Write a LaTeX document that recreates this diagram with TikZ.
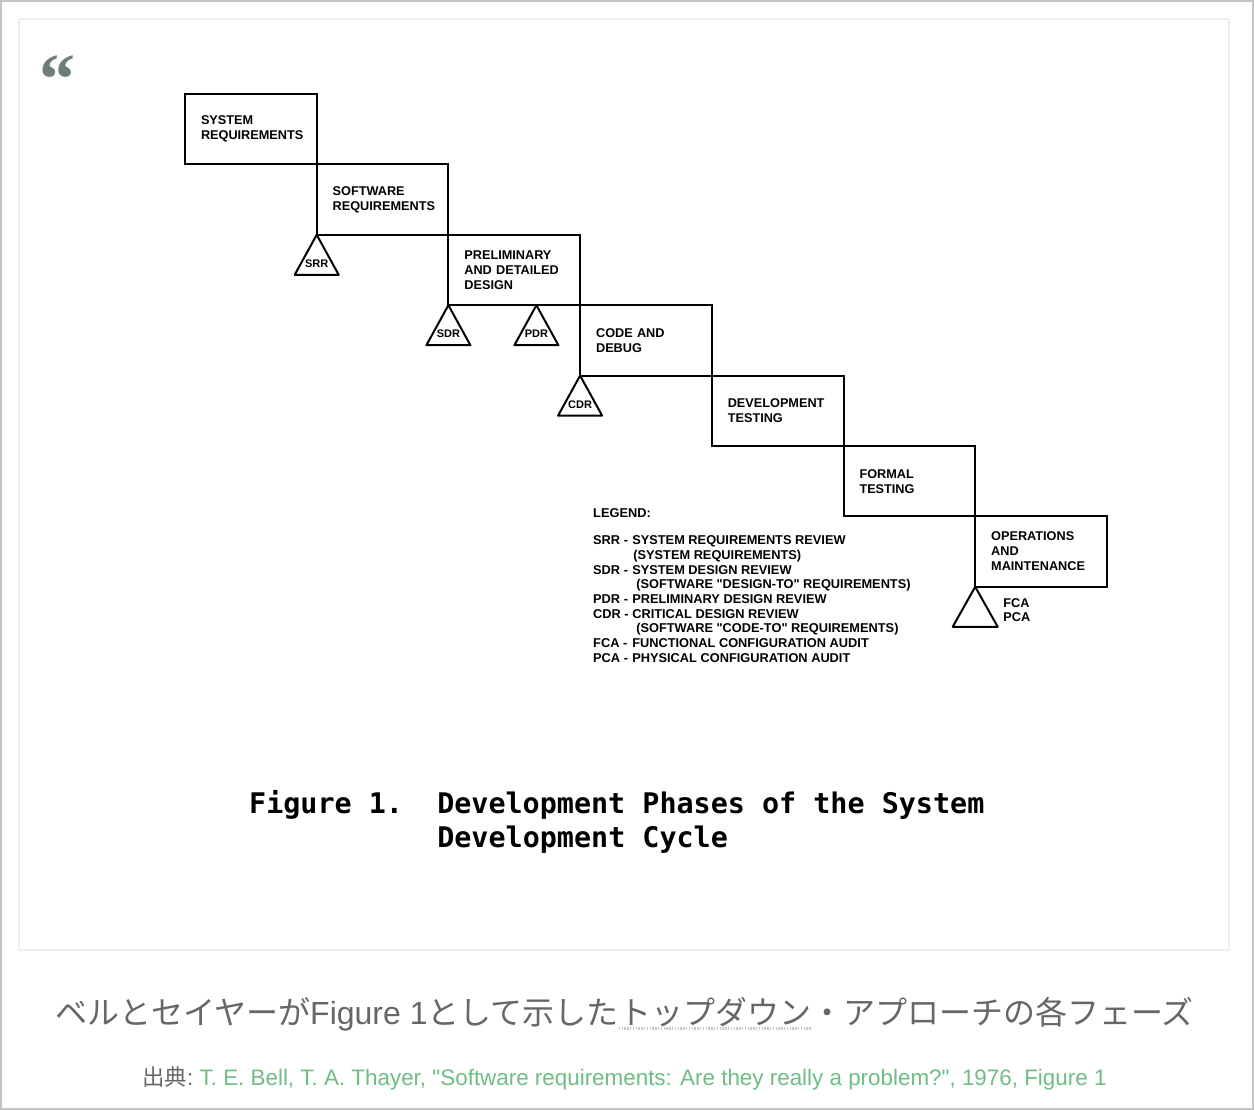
\documentclass[tikz,border=0pt]{standalone}
\usepackage{fontspec}
\setmainfont{Liberation Sans}
\newfontfamily\cjkfont{Noto Sans CJK JP}
\newfontfamily\quotefont{Liberation Serif}
\newfontfamily\typewriterfont{DejaVu Sans Mono}
\usetikzlibrary{positioning}

\definecolor{quotegray}{HTML}{6E7E7C}
\definecolor{captiongray}{HTML}{666666}
\definecolor{sourcegreen}{HTML}{6CBE82}
\definecolor{framegray}{HTML}{C4C4C4}
\definecolor{cardgray}{HTML}{EEEEEE}

\tikzset{
  phase/.style={draw, line width=2pt, outer sep=0pt, inner xsep=16pt, inner ysep=0pt,
    text width=99.7pt, minimum height=70.4pt, align=left,
    font=\bfseries\fontsize{12.7}{15}\selectfont},
  review/.style={draw, line width=2pt, line join=round},
  reviewtext/.style={inner sep=0pt, font=\bfseries\fontsize{11}{13}\selectfont},
  legendtext/.style={inner sep=0pt, font=\bfseries\fontsize{12.8}{14.7}\selectfont},
  figtext/.style={inner sep=0pt, font=\typewriterfont\bfseries\fontsize{28.4}{34}\selectfont},
  jpcaption/.style={inner sep=0pt, text=captiongray, font=\cjkfont\fontsize{32}{36}\selectfont},
  sourcetext/.style={inner sep=0pt, font=\fontsize{22.4}{26}\selectfont},
  dotunder/.style={draw=black!22, line width=2.5pt, dash pattern=on 1.4pt off 1.4pt},
}

\begin{document}
\begin{tikzpicture}[x=1pt, y=-1pt]
  \useasboundingbox (0,0) rectangle (1254,1110);
  % page frame and card
  \draw[framegray, line width=2pt] (1,1) rectangle (1253,1109);
  \draw[cardgray, line width=2pt] (19,19) rectangle (1229,950);
  \node[text=quotegray, inner sep=0pt, anchor=base west,
    font=\quotefont\bfseries\fontsize{72}{72}\selectfont] (quote) at (39,104) {“};

  % phases: each box hangs off the lower right corner of the one before
  \node[phase, anchor=north west] (sysreq) at (185,94) {SYSTEM\\REQUIREMENTS};
  \foreach \name/\prev/\txt in {softreq/sysreq/{SOFTWARE\\REQUIREMENTS},
      design/softreq/{PRELIMINARY\\AND DETAILED\\DESIGN},
      code/design/{CODE AND\\DEBUG},
      devtest/code/{DEVELOPMENT\\TESTING},
      formaltest/devtest/{FORMAL\\TESTING},
      operations/formaltest/{OPERATIONS\\AND\\MAINTENANCE}}
    \node[phase, below right=0pt and 0pt of \prev] (\name) {\txt};

  % reviews: triangles hang from the lower left corners
  \coordinate (srrtip) at (softreq.south west);
  \coordinate (sdrtip) at (design.south west);
  \coordinate (pdrtip) at ([xshift=88pt]design.south west);
  \coordinate (cdrtip) at (code.south west);
  \foreach \tip/\lab in {srrtip/SRR, sdrtip/SDR, pdrtip/PDR, cdrtip/CDR} {
    \draw[review] (\tip) -- ++(-22,40) -- ++(44,0) -- cycle;
    \node[reviewtext] (\lab) at ([yshift=-29pt]\tip) {\lab};
  }
  % audits after operations
  \coordinate (fcatip) at (operations.south west);
  \draw[review] (fcatip) -- ++(-22.5,40) -- ++(45,0) -- cycle;
  \node[legendtext, anchor=west, align=left, font=\bfseries\fontsize{12.7}{14}\selectfont]
    (audits) at ([shift={(28pt,-23pt)}]fcatip) {FCA\\PCA};

  % legend
  \node[legendtext, anchor=north west] (legend) at (593,507.5) {%
    \begin{tabular}{@{}l@{\ }l@{}}
      \multicolumn{2}{@{}l}{LEGEND:}\\[12pt]
      SRR - & SYSTEM REQUIREMENTS REVIEW\\
            & \hspace{1pt}(SYSTEM REQUIREMENTS)\\
      SDR - & SYSTEM DESIGN REVIEW\\
            & \hspace{4pt}(SOFTWARE \textquotedbl DESIGN-TO\textquotedbl\ REQUIREMENTS)\\
      PDR - & PRELIMINARY DESIGN REVIEW\\
      CDR - & CRITICAL DESIGN REVIEW\\
            & \hspace{4pt}(SOFTWARE \textquotedbl CODE-TO\textquotedbl\ REQUIREMENTS)\\
      FCA - & FUNCTIONAL CONFIGURATION AUDIT\\
      PCA - & PHYSICAL CONFIGURATION AUDIT
    \end{tabular}};

  % figure title
  \node[figtext, anchor=base west] (figtitle) at (249,813) {%
    \begin{tabular}[t]{@{}l@{\hspace{34.2pt}}l@{}}
      Figure 1. & Development Phases of the System\\
                & Development Cycle
    \end{tabular}};

  % caption below the card
  \node[jpcaption, anchor=base west] (captionhead) at (55,1024)
    {ベルとセイヤーが{\rmfamily Figure 1}として示した};
  \node[jpcaption, base right=0pt of captionhead] (topdown) {トップダウン};
  \node[jpcaption, base right=0pt of topdown] (captiontail) {・アプローチの各フェーズ};
  \draw[dotunder] ([yshift=-4.5pt]topdown.base west) -- ([yshift=-4.5pt]topdown.base east);

  % source
  \node[sourcetext, text=captiongray, anchor=base west] (sourcehead) at (142,1085) {{\cjkfont 出典}:};
  \node[sourcetext, text=sourcegreen, base right=6pt of sourcehead] (sourceref)
    {T. E. Bell, T. A. Thayer, \textquotedbl Software requirements: Are they really a problem?\textquotedbl, 1976, Figure 1};
\end{tikzpicture}
\end{document}
